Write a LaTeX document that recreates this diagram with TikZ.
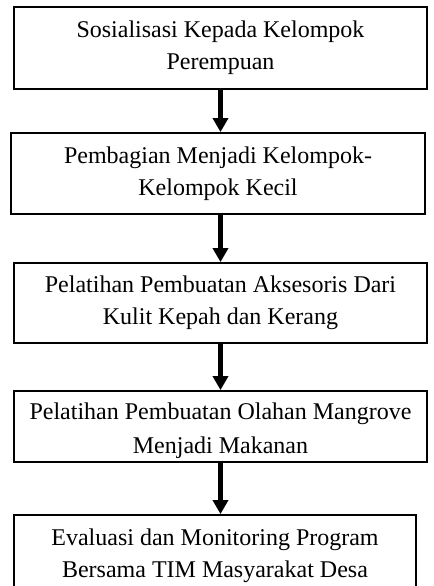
\documentclass[tikz,border=0pt]{standalone}
\usepackage{fontspec}
\setmainfont{Liberation Serif}
\usetikzlibrary{arrows.meta,positioning}
\tikzstyle{process} = [rectangle, draw=black, line width=0.9pt, align=center, inner sep=0pt, font=\fontsize{12}{16}\selectfont]
\tikzstyle{arrow} = [line width=2.3pt, -{Triangle[length=7pt,width=7.5pt]}]

\begin{document}
\begin{tikzpicture}[x=0.5pt,y=-0.5pt]
    \useasboundingbox (0,0) rectangle (434,586);
    \node [process, minimum width=206.5pt, minimum height=41pt] (sosialisasi) at (220.5,48) {Sosialisasi Kepada Kelompok\\Perempuan};
    \node [process, minimum width=207pt, minimum height=40.5pt] (pembagian) at (218,173.5) {Pembagian Menjadi Kelompok-\\Kelompok Kecil};
    \node [process, minimum width=206.5pt, minimum height=40pt] (aksesoris) at (220.5,303) {Pelatihan Pembuatan Aksesoris Dari\\Kulit Kepah dan Kerang};
    % text sits a little low in this box
    \node [process, minimum width=206.5pt, minimum height=35.5pt] (olahan) at (220.5,426.5) {\rule{0pt}{12.5pt}Pelatihan Pembuatan Olahan Mangrove\\[1pt]Menjadi Makanan};
    \node [process, minimum width=201pt, minimum height=41pt] (evaluasi) at (215,556) {Evaluasi dan Monitoring Program\\Bersama TIM Masyarakat Desa};
    \draw [arrow] (sosialisasi.south) -- (pembagian.north -| sosialisasi);
    \draw [arrow] (pembagian.south -| sosialisasi) -- (aksesoris.north -| sosialisasi);
    \draw [arrow] (aksesoris.south -| sosialisasi) -- (olahan.north -| sosialisasi);
    \draw [arrow] (olahan.south -| sosialisasi) -- (evaluasi.north -| sosialisasi);
\end{tikzpicture}
\end{document}
